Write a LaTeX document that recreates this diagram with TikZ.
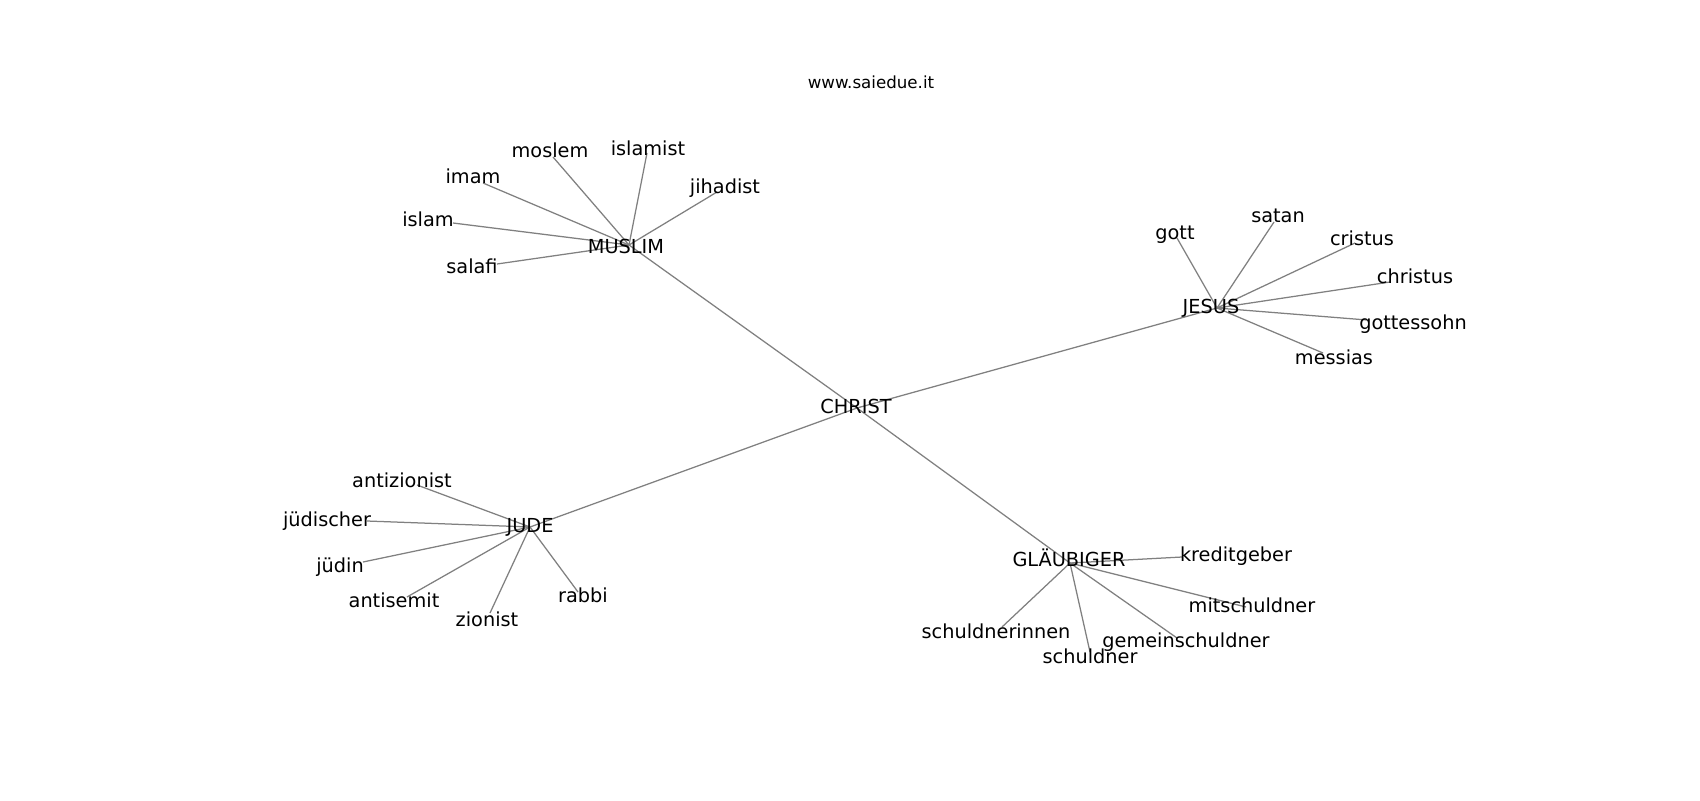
\documentclass[tikz,border=0pt]{standalone}
\usepackage{fontspec}
\setmainfont{DejaVu Sans}
\begin{document}
\begin{tikzpicture}[x=0.72pt,y=-0.72pt,
  lbl/.style={anchor=base,inner sep=0pt,outer sep=0pt,font=\fontsize{13.9}{16}\selectfont,text=black},
  ttl/.style={anchor=base,inner sep=0pt,font=\fontsize{12}{14}\selectfont,text=black},
  edge/.style={draw=gray,line width=0.9pt}]
\fill[white] (0,0) rectangle (1700,800);
\useasboundingbox (0,0) rectangle (1700,800);
% hub points
\coordinate (pCHRIST) at (857,408);
\coordinate (pMUSLIM) at (629,245);
\coordinate (pJESUS) at (1217,308);
\coordinate (pJUDE) at (530,527);
\coordinate (pGLAEUBIGER) at (1070,563);
% leaf points
\coordinate (pmoslem) at (553,157);
\coordinate (pislamist) at (647,153);
\coordinate (pjihadist) at (717,192);
\coordinate (pimam) at (483,183);
\coordinate (pislam) at (453,223);
\coordinate (psalafi) at (497,264);
\coordinate (pgott) at (1177,238);
\coordinate (psatan) at (1274,222);
\coordinate (pcristus) at (1355,243);
\coordinate (pchristus) at (1390,282);
\coordinate (pgottessohn) at (1367,320);
\coordinate (pmessias) at (1323,353);
\coordinate (pantizionist) at (417,485);
\coordinate (pjuedischer) at (367,521);
\coordinate (pjuedin) at (363,562);
\coordinate (pantisemit) at (407,597);
\coordinate (pzionist) at (490,613);
\coordinate (prabbi) at (578,592);
\coordinate (pkreditgeber) at (1182,557);
\coordinate (pmitschuldner) at (1246,607);
\coordinate (pschuldnerinnen) at (1002,627);
\coordinate (pschuldner) at (1090,652);
\coordinate (pgemeinschuldner) at (1177,638);
% edges
\draw[edge] (pCHRIST) -- (pMUSLIM);
\draw[edge] (pCHRIST) -- (pJESUS);
\draw[edge] (pCHRIST) -- (pJUDE);
\draw[edge] (pCHRIST) -- (pGLAEUBIGER);
\foreach \l in {moslem,islamist,jihadist,imam,islam,salafi}
  \draw[edge] (pMUSLIM) -- (p\l);
\foreach \l in {gott,satan,cristus,christus,gottessohn,messias}
  \draw[edge] (pJESUS) -- (p\l);
\foreach \l in {antizionist,juedischer,juedin,antisemit,zionist,rabbi}
  \draw[edge] (pJUDE) -- (p\l);
\foreach \l in {kreditgeber,mitschuldner,schuldnerinnen,schuldner,gemeinschuldner}
  \draw[edge] (pGLAEUBIGER) -- (p\l);
% labels
\node[ttl] (title) at (871,88) {www.saiedue.it};
\node[lbl] (CHRIST) at (856,413) {CHRIST};
\node[lbl] (MUSLIM) at (626,253) {MUSLIM};
\node[lbl] (JESUS) at (1211,313) {JESUS};
\node[lbl] (JUDE) at (530,532) {JUDE};
\node[lbl] (GLAEUBIGER) at (1069,566) {GLÄUBIGER};
\node[lbl] (moslem) at (550,157) {moslem};
\node[lbl] (islamist) at (648,155) {islamist};
\node[lbl] (jihadist) at (725,193) {jihadist};
\node[lbl] (imam) at (473,183) {imam};
\node[lbl] (islam) at (428,226) {islam};
\node[lbl] (salafi) at (472,273) {salafi};
\node[lbl] (gott) at (1175,239) {gott};
\node[lbl] (satan) at (1278,222) {satan};
\node[lbl] (cristus) at (1362,245) {cristus};
\node[lbl] (christus) at (1415,283) {christus};
\node[lbl] (gottessohn) at (1413,329) {gottessohn};
\node[lbl] (messias) at (1334,364) {messias};
\node[lbl] (antizionist) at (402,487) {antizionist};
\node[lbl] (juedischer) at (327,526) {jüdischer};
\node[lbl] (juedin) at (340,572) {jüdin};
\node[lbl] (antisemit) at (394,607) {antisemit};
\node[lbl] (zionist) at (487,626) {zionist};
\node[lbl] (rabbi) at (583,602) {rabbi};
\node[lbl] (kreditgeber) at (1236,561) {kreditgeber};
\node[lbl] (mitschuldner) at (1252,612) {mitschuldner};
\node[lbl] (schuldnerinnen) at (996,638) {schuldnerinnen};
\node[lbl] (schuldner) at (1090,663) {schuldner};
\node[lbl] (gemeinschuldner) at (1186,647) {gemeinschuldner};
\end{tikzpicture}
\end{document}
